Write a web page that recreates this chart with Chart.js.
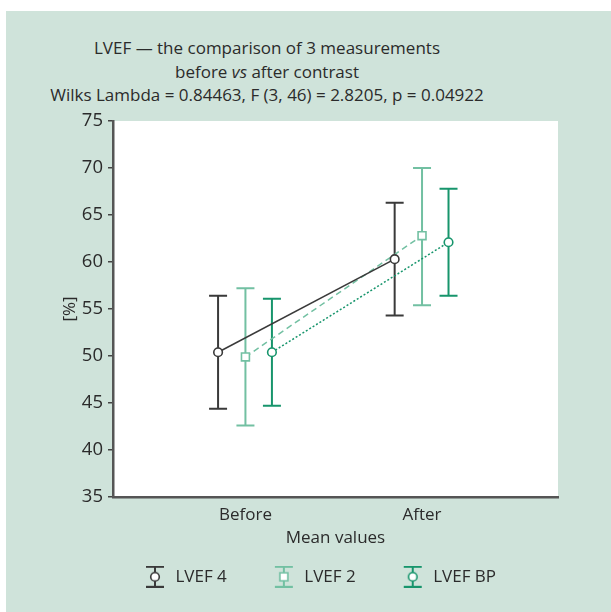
<!DOCTYPE html>
<html>
<head>
<meta charset="utf-8">
<script src="https://cdn.jsdelivr.net/npm/chart.js@4/dist/chart.umd.min.js"></script>
<style>
    body { margin: 0; background: #fff; font-family: 'Open Sans', sans-serif; }
    #panel { position: absolute; left: 6px; top: 11px; width: 605px; height: 601px; background: #cfe3da; }
    #title { position: absolute; left: 0; top: 25px; width: 522px; text-align: center; font-size: 17px; line-height: 23.5px; color: #2b2b2b; }
    #chartBox { position: absolute; left: 0; top: 0; width: 605px; height: 601px; }
</style>
</head>
<body>
<div id="panel">
    <div id="title">LVEF — the comparison of 3 measurements<br>before <i>vs</i> after contrast<br>Wilks Lambda = 0.84463, F (3, 46) = 2.8205, p = 0.04922</div>
    <div id="chartBox"><canvas id="lvefChart"></canvas></div>
</div>
<script>
// Data
const categories = ['Before', 'After'];
const seriesNames = ['LVEF 4', 'LVEF 2', 'LVEF BP'];

const lvef4Mean = [50.4, 60.3];
const lvef4Low = [44.4, 54.3];
const lvef4High = [56.4, 66.3];

const lvef2Mean = [49.9, 62.8];
const lvef2Low = [42.6, 55.4];
const lvef2High = [57.2, 70.0];

const lvefBpMean = [50.4, 62.1];
const lvefBpLow = [44.7, 56.4];
const lvefBpHigh = [56.1, 67.8];

const yTicks = [35, 40, 45, 50, 55, 60, 65, 70, 75];

// Styling
const colors = ['#3a3a3a', '#72c0a2', '#17956c'];
const offsets = [-0.155, 0, 0.15]; // horizontal dodge of each series
const dashes = [[], [6, 4], [2, 2]];
const markers = ['circle', 'rect', 'circle'];
const markerSize = [4.3, 5.6, 4.3];

const series = [
    { mean: lvef4Mean, low: lvef4Low, high: lvef4High },
    { mean: lvef2Mean, low: lvef2Low, high: lvef2High },
    { mean: lvefBpMean, low: lvefBpLow, high: lvefBpHigh },
];

// Legend icons: error bar with marker, left blank so the legend sits like the original
function makeIcon(i) {
    const c = document.createElement('canvas');
    c.width = 45;
    c.height = 22;
    const g = c.getContext('2d');
    const cx = 33;
    g.strokeStyle = colors[i];
    g.lineWidth = 2;
    g.beginPath();
    g.moveTo(cx, 1); g.lineTo(cx, 21);
    g.moveTo(cx - 9, 1); g.lineTo(cx + 9, 1);
    g.moveTo(cx - 9, 21); g.lineTo(cx + 9, 21);
    g.stroke();
    g.fillStyle = '#fff';
    g.lineWidth = 1.6;
    g.beginPath();
    if (markers[i] === 'rect') {
        g.rect(cx - 4, 7, 8, 8);
    } else {
        g.arc(cx, 11, 4.3, 0, Math.PI * 2);
    }
    g.fill();
    g.stroke();
    return c;
}
const icons = seriesNames.map((n, i) => makeIcon(i));

// White plot area + error bars drawn with the chart's own scales
const errorBars = {
    id: 'errorBars',
    beforeDraw(chart) {
        const { ctx, chartArea } = chart;
        ctx.save();
        ctx.fillStyle = '#fff';
        ctx.fillRect(chartArea.left, chartArea.top, chartArea.right - chartArea.left, chartArea.bottom - chartArea.top);
        ctx.restore();
    },
    beforeDatasetsDraw(chart) {
        const { ctx, scales: { x, y } } = chart;
        series.forEach((s, i) => {
            ctx.save();
            ctx.strokeStyle = colors[i];
            ctx.lineWidth = 2;
            categories.forEach((cat, j) => {
                const px = x.getPixelForValue(j + 1 + offsets[i]);
                const top = y.getPixelForValue(s.high[j]);
                const bot = y.getPixelForValue(s.low[j]);
                ctx.beginPath();
                ctx.moveTo(px, top); ctx.lineTo(px, bot);
                ctx.moveTo(px - 9, top); ctx.lineTo(px + 9, top);
                ctx.moveTo(px - 9, bot); ctx.lineTo(px + 9, bot);
                ctx.stroke();
            });
            ctx.restore();
        });
    }
};

const datasets = series.map((s, i) => ({
    label: seriesNames[i],
    data: s.mean.map((v, j) => ({ x: j + 1 + offsets[i], y: v })),
    showLine: true,
    borderColor: colors[i],
    borderWidth: 1.5,
    borderDash: dashes[i],
    pointStyle: markers[i],
    pointRadius: markerSize[i],
    pointHoverRadius: markerSize[i],
    pointBackgroundColor: '#fff',
    pointBorderColor: colors[i],
    pointBorderWidth: 1.6,
}));

const font = { family: "'Open Sans', sans-serif", size: 17 };

new Chart(document.getElementById('lvefChart'), {
    type: 'scatter',
    data: { datasets: datasets },
    plugins: [errorBars],
    options: {
        responsive: true,
        maintainAspectRatio: false,
        animation: false,
        layout: { padding: { top: 110, left: 54, right: 53, bottom: 16.7 } },
        plugins: {
            tooltip: { enabled: false },
            legend: {
                position: 'bottom',
                labels: {
                    usePointStyle: true,
                    pointStyleWidth: 45,
                    padding: 24,
                    color: '#2b2b2b',
                    font: font,
                    generateLabels: () => seriesNames.map((name, i) => ({
                        text: name,
                        pointStyle: icons[i],
                        datasetIndex: i,
                        hidden: false,
                        fontColor: '#2b2b2b',
                        lineWidth: 0,
                    })),
                },
            },
        },
        scales: {
            x: {
                type: 'linear',
                min: 0.25,
                max: 2.77,
                afterBuildTicks: (scale) => {
                    scale.ticks = categories.map((c, j) => ({ value: j + 1 }));
                },
                ticks: {
                    color: '#2b2b2b',
                    font: { family: font.family, size: 17, lineHeight: 0.8 },
                    padding: 10.9,
                    callback: (v) => categories[v - 1],
                },
                grid: { display: false, drawTicks: false },
                border: { display: true, color: '#555', width: 2.5 },
                title: {
                    display: true, text: 'Mean values', color: '#2b2b2b',
                    font: { family: font.family, size: 17, lineHeight: 0.7 },
                    padding: { top: 0, bottom: 0 },
                },
            },
            y: {
                min: 35,
                max: 75,
                afterBuildTicks: (scale) => {
                    scale.ticks = yTicks.map((v) => ({ value: v }));
                },
                afterFit: (scale) => { scale.width = 53; },
                ticks: { color: '#2b2b2b', font: { family: font.family, size: 18.5 }, padding: 5 },
                grid: { drawOnChartArea: false, drawTicks: true, tickLength: 5, color: '#444', lineWidth: 1.5 },
                border: { display: true, color: '#555', width: 2.5 },
                title: { display: true, text: '[%]', color: '#2b2b2b', font: font, padding: 0 },
            },
        },
    },
});
</script>
</body>
</html>
